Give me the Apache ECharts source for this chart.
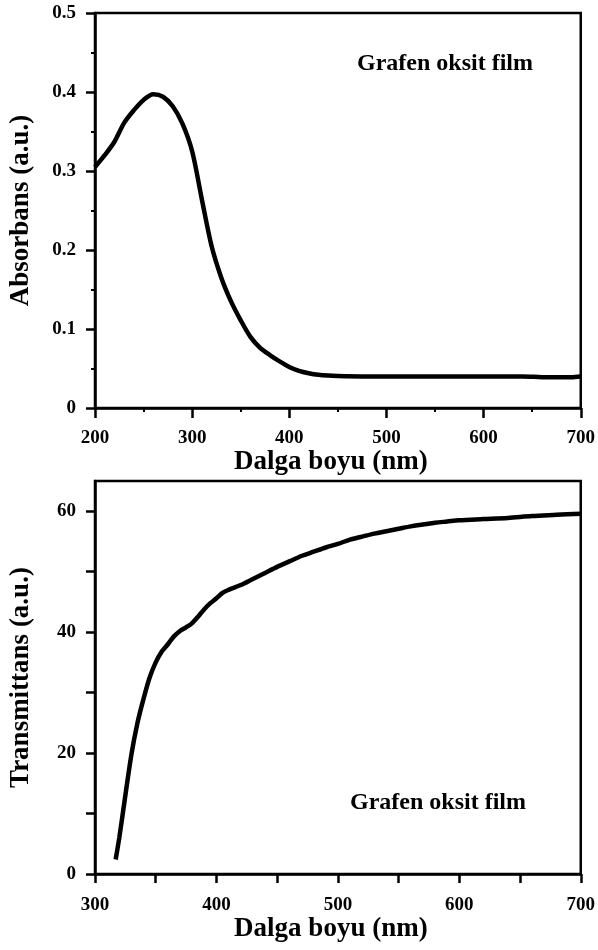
<!DOCTYPE html>
<html>
<head>
    <meta charset="utf-8">
    <title>Grafen oksit film - UV-Vis</title>
    <script src="https://cdn.jsdelivr.net/npm/echarts@6/dist/echarts.min.js"></script>
    <style>
        html, body { margin: 0; padding: 0; background: #fff; }
        #chart { width: 598px; height: 950px; }
    </style>
</head>
<body>
    <div id="chart"></div>
    <script>
        // absorbans egrisi (ust grafik)
        var absWave = [200, 210, 220, 230, 240, 250, 260, 270, 280, 290, 300, 310, 320, 330, 340, 350,
            360, 370, 380, 390, 400, 410, 420, 430, 440, 450, 475, 500, 550, 600, 640, 660, 680, 690, 700];
        var absVal = [0.305, 0.320, 0.337, 0.361, 0.377, 0.390, 0.397, 0.394, 0.382, 0.360, 0.325, 0.264, 0.205,
            0.165, 0.135, 0.111, 0.090, 0.076, 0.067, 0.059, 0.052, 0.047, 0.044, 0.042, 0.041, 0.0405, 0.040,
            0.040, 0.040, 0.040, 0.040, 0.039, 0.0388, 0.039, 0.040];

        // transmittans egrisi (alt grafik)
        var trWave = [317, 320, 325, 330, 335, 340, 345, 350, 355, 360, 365, 370, 375, 380, 385, 390, 395, 400,
            405, 410, 420, 430, 440, 450, 460, 470, 480, 490, 500, 510, 520, 530, 540, 550, 560, 570, 580, 590,
            600, 620, 640, 660, 680, 700];
        var trVal = [2.4, 6, 13, 19.8, 25, 29, 32.5, 35, 36.8, 38, 39.3, 40.2, 40.8, 41.5, 42.6, 43.8, 44.8, 45.6,
            46.5, 47, 47.8, 48.8, 49.8, 50.8, 51.7, 52.6, 53.3, 54, 54.6, 55.3, 55.8, 56.3, 56.7, 57.1, 57.5, 57.8,
            58.1, 58.3, 58.5, 58.7, 58.9, 59.2, 59.4, 59.6];

        var trXTicks = [300, 350, 400, 450, 500, 550, 600, 650, 700];
        var trXLabels = [300, 400, 500, 600, 700];
        var trYTicks = [0, 10, 20, 30, 40, 50, 60];
        var trYLabels = [0, 20, 40, 60];

        var label = 'Grafen oksit film';

        function pairs(xs, ys) {
            var out = [];
            for (var i = 0; i < xs.length; i++) out.push([xs[i], ys[i]]);
            return out;
        }

        var font = 'Liberation Serif';
        var ink = '#000';
        var axisLine = { show: true, onZero: false, lineStyle: { color: ink, width: 2.5 } };
        var lbl = { color: ink, fontFamily: font, fontWeight: 'bold', fontSize: 19 };
        var nameStyle = { color: ink, fontFamily: font, fontWeight: 'bold', fontSize: 27 };
        var xNameStyle = Object.assign({ padding: [0, 14, 0, 0] }, nameStyle);

        var myChart = echarts.init(document.getElementById('chart'), null, { renderer: 'canvas' });
        var option = {
            animation: false,
            backgroundColor: '#fff',
            grid: [
                { left: 91, top: 13, width: 492, height: 395, show: true, borderColor: ink, borderWidth: 2.5, containLabel: false },
                { left: 91, top: 481, width: 491, height: 393, show: true, borderColor: ink, borderWidth: 2.5, containLabel: false }
            ],
            xAxis: [
                {
                    gridIndex: 0, type: 'value', min: 200, max: 700, interval: 100,
                    name: 'Dalga boyu (nm)', nameLocation: 'middle', nameGap: 40, nameTextStyle: xNameStyle,
                    axisLine: axisLine,
                    axisTick: { show: true, inside: false, length: 10, lineStyle: { color: ink, width: 2.5 } },
                    minorTick: { show: true, splitNumber: 2, length: 4, lineStyle: { color: ink, width: 2 } },
                    axisLabel: Object.assign({ margin: 21 }, lbl),
                    splitLine: { show: false }
                },
                {
                    gridIndex: 1, type: 'value', min: 300, max: 700, interval: 50,
                    name: 'Dalga boyu (nm)', nameLocation: 'middle', nameGap: 42, nameTextStyle: xNameStyle,
                    axisLine: axisLine,
                    axisTick: { show: true, inside: false, length: 9, customValues: trXTicks, lineStyle: { color: ink, width: 2.5 } },
                    axisLabel: Object.assign({ margin: 22, customValues: trXLabels }, lbl),
                    splitLine: { show: false }
                }
            ],
            yAxis: [
                {
                    gridIndex: 0, type: 'value', min: 0, max: 0.5, interval: 0.1,
                    name: 'Absorbans (a.u.)', nameLocation: 'middle', nameGap: 60, nameTextStyle: nameStyle,
                    axisLine: axisLine,
                    axisTick: { show: true, inside: false, length: 9, lineStyle: { color: ink, width: 2.5 } },
                    minorTick: { show: true, splitNumber: 2, length: 4, lineStyle: { color: ink, width: 2 } },
                    axisLabel: Object.assign({ margin: 19 }, lbl),
                    splitLine: { show: false }
                },
                {
                    gridIndex: 1, type: 'value', min: 0, max: 65, interval: 10,
                    name: 'Transmittans (a.u.)', nameLocation: 'middle', nameGap: 60, nameTextStyle: nameStyle,
                    axisLine: axisLine,
                    axisTick: { show: true, inside: false, length: 9, customValues: trYTicks, lineStyle: { color: ink, width: 2.5 } },
                    axisLabel: Object.assign({ margin: 19, customValues: trYLabels }, lbl),
                    splitLine: { show: false }
                }
            ],
            graphic: [
                { type: 'text', left: 357, top: 52, style: { text: label, fill: ink, font: 'bold 24px "Liberation Serif"' } },
                { type: 'text', left: 350, top: 791, style: { text: label, fill: ink, font: 'bold 24px "Liberation Serif"' } }
            ],
            series: [
                {
                    type: 'line', xAxisIndex: 0, yAxisIndex: 0, data: pairs(absWave, absVal),
                    showSymbol: false, smooth: 0.3, lineStyle: { color: ink, width: 4.5 }
                },
                {
                    type: 'line', xAxisIndex: 1, yAxisIndex: 1, data: pairs(trWave, trVal),
                    showSymbol: false, smooth: 0.3, lineStyle: { color: ink, width: 4.5 }
                }
            ]
        };
        myChart.setOption(option);
    </script>
</body>
</html>
